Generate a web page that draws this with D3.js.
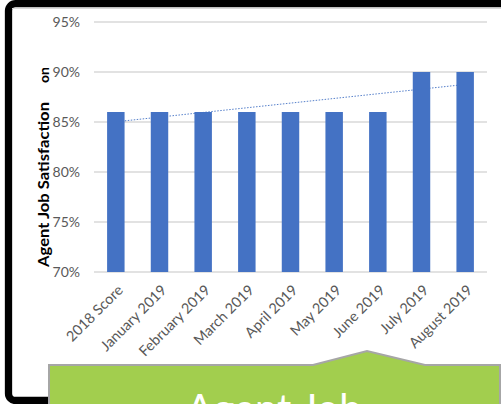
<!DOCTYPE html>
<html>
<head>
<meta charset="utf-8">
<script src="https://cdn.jsdelivr.net/npm/d3@7"></script>
<style>
  html, body { margin: 0; padding: 0; background: #ffffff; overflow: hidden; }
  svg { display: block; }
</style>
</head>
<body>
<svg id="chart" width="501" height="404"></svg>
<script>
const categories = ["2018 Score", "January 2019", "February 2019", "March 2019", "April 2019", "May 2019", "June 2019", "July 2019", "August 2019"];
const satisfaction = [0.86, 0.86, 0.86, 0.86, 0.86, 0.86, 0.86, 0.90, 0.90];
const yTicks = [0.70, 0.75, 0.80, 0.85, 0.90, 0.95];
const yTitle = "Agent Job Satisfaction";
const yTitleFragment = "on";
const calloutText = "Agent Job";

const svg = d3.select("#chart");

// frame
svg.append("rect")
  .attr("x", 8.5).attr("y", 3.7).attr("width", 520).attr("height", 396.8)
  .attr("rx", 7).attr("fill", "#ffffff").attr("stroke", "#000000").attr("stroke-width", 7.3);
svg.append("line").attr("x1", 12).attr("x2", 501).attr("y1", 8.5).attr("y2", 8.5)
  .attr("stroke", "#d9d9d9").attr("stroke-width", 1);

const x = d3.scaleBand().domain(categories).range([94, 487]).paddingInner(0.6).paddingOuter(0.3);
const y = d3.scaleLinear().domain([0.70, 0.95]).range([272, 22]);

// gridlines
svg.append("g").selectAll("line").data(yTicks).join("line")
  .attr("x1", 94).attr("x2", 487)
  .attr("y1", d => y(d)).attr("y2", d => y(d))
  .attr("stroke", "#d9d9d9").attr("stroke-width", 1.3);

// y axis labels
const yAxis = d3.axisLeft(y).tickValues(yTicks).tickFormat(d3.format(".0%")).tickSize(0).tickPadding(0);
const gy = svg.append("g").attr("transform", "translate(80,0)").call(yAxis);
gy.select(".domain").remove();
gy.selectAll("text").attr("fill", "#595959").style("font-family", "Lato, 'Open Sans', sans-serif").style("font-size", "14px");

// bars
svg.append("g").selectAll("rect").data(categories).join("rect")
  .attr("x", d => x(d)).attr("width", x.bandwidth())
  .attr("y", (d, i) => y(satisfaction[i]))
  .attr("height", (d, i) => y(0.70) - y(satisfaction[i]))
  .attr("fill", "#4472c4");

// linear trendline
const n = satisfaction.length;
const xs = d3.range(n);
const mx = d3.mean(xs), my = d3.mean(satisfaction);
const slope = d3.sum(xs, i => (i - mx) * (satisfaction[i] - my)) / d3.sum(xs, i => (i - mx) * (i - mx));
const intercept = my - slope * mx;
const trend = [0, n - 1].map(i => [x(categories[i]) + x.bandwidth() / 2, y(intercept + slope * i)]);
svg.append("path").attr("d", d3.line()(trend))
  .attr("fill", "none").attr("stroke", "#4472c4").attr("stroke-width", 1)
  .attr("stroke-dasharray", "1.5 1.5").attr("opacity", 0.9);

// x axis labels
const xAxis = d3.axisBottom(x).tickSize(0).tickPadding(0);
const gx = svg.append("g").attr("transform", "translate(0,272)").call(xAxis);
gx.select(".domain").remove();
gx.selectAll("text")
  .attr("fill", "#595959")
  .style("font-family", "Lato, 'Open Sans', sans-serif").style("font-size", "14.5px")
  .attr("text-anchor", "end")
  .attr("dy", "0")
  .attr("y", 0)
  .attr("transform", "translate(8,19) rotate(-45)");

// y title
svg.append("text").attr("transform", "translate(49,267) rotate(-90)")
  .attr("font-family", "Lato, 'Open Sans', sans-serif").attr("font-weight", "bold").attr("font-size", "15.5px")
  .attr("textLength", 165).attr("lengthAdjust", "spacingAndGlyphs")
  .attr("fill", "#000000").text(yTitle);
svg.append("text").attr("transform", "translate(49,83) rotate(-90)")
  .attr("font-family", "Lato, 'Open Sans', sans-serif").attr("font-weight", "bold").attr("font-size", "14px")
  .attr("fill", "#000000").text(yTitleFragment);

// callout
const callout = [[49, 365], [313, 365], [367, 351], [425, 365], [500, 365], [500, 420], [49, 420]];
svg.append("path").attr("d", d3.line()(callout) + "Z")
  .attr("fill", "#a2ce4e").attr("stroke", "#a6a6a6").attr("stroke-width", 2);
svg.append("text").attr("x", 274).attr("y", 423).attr("text-anchor", "middle")
  .attr("font-family", "Lato, 'Open Sans', sans-serif").attr("font-size", "40px")
  .attr("fill", "#ffffff").text(calloutText);
</script>
</body>
</html>
